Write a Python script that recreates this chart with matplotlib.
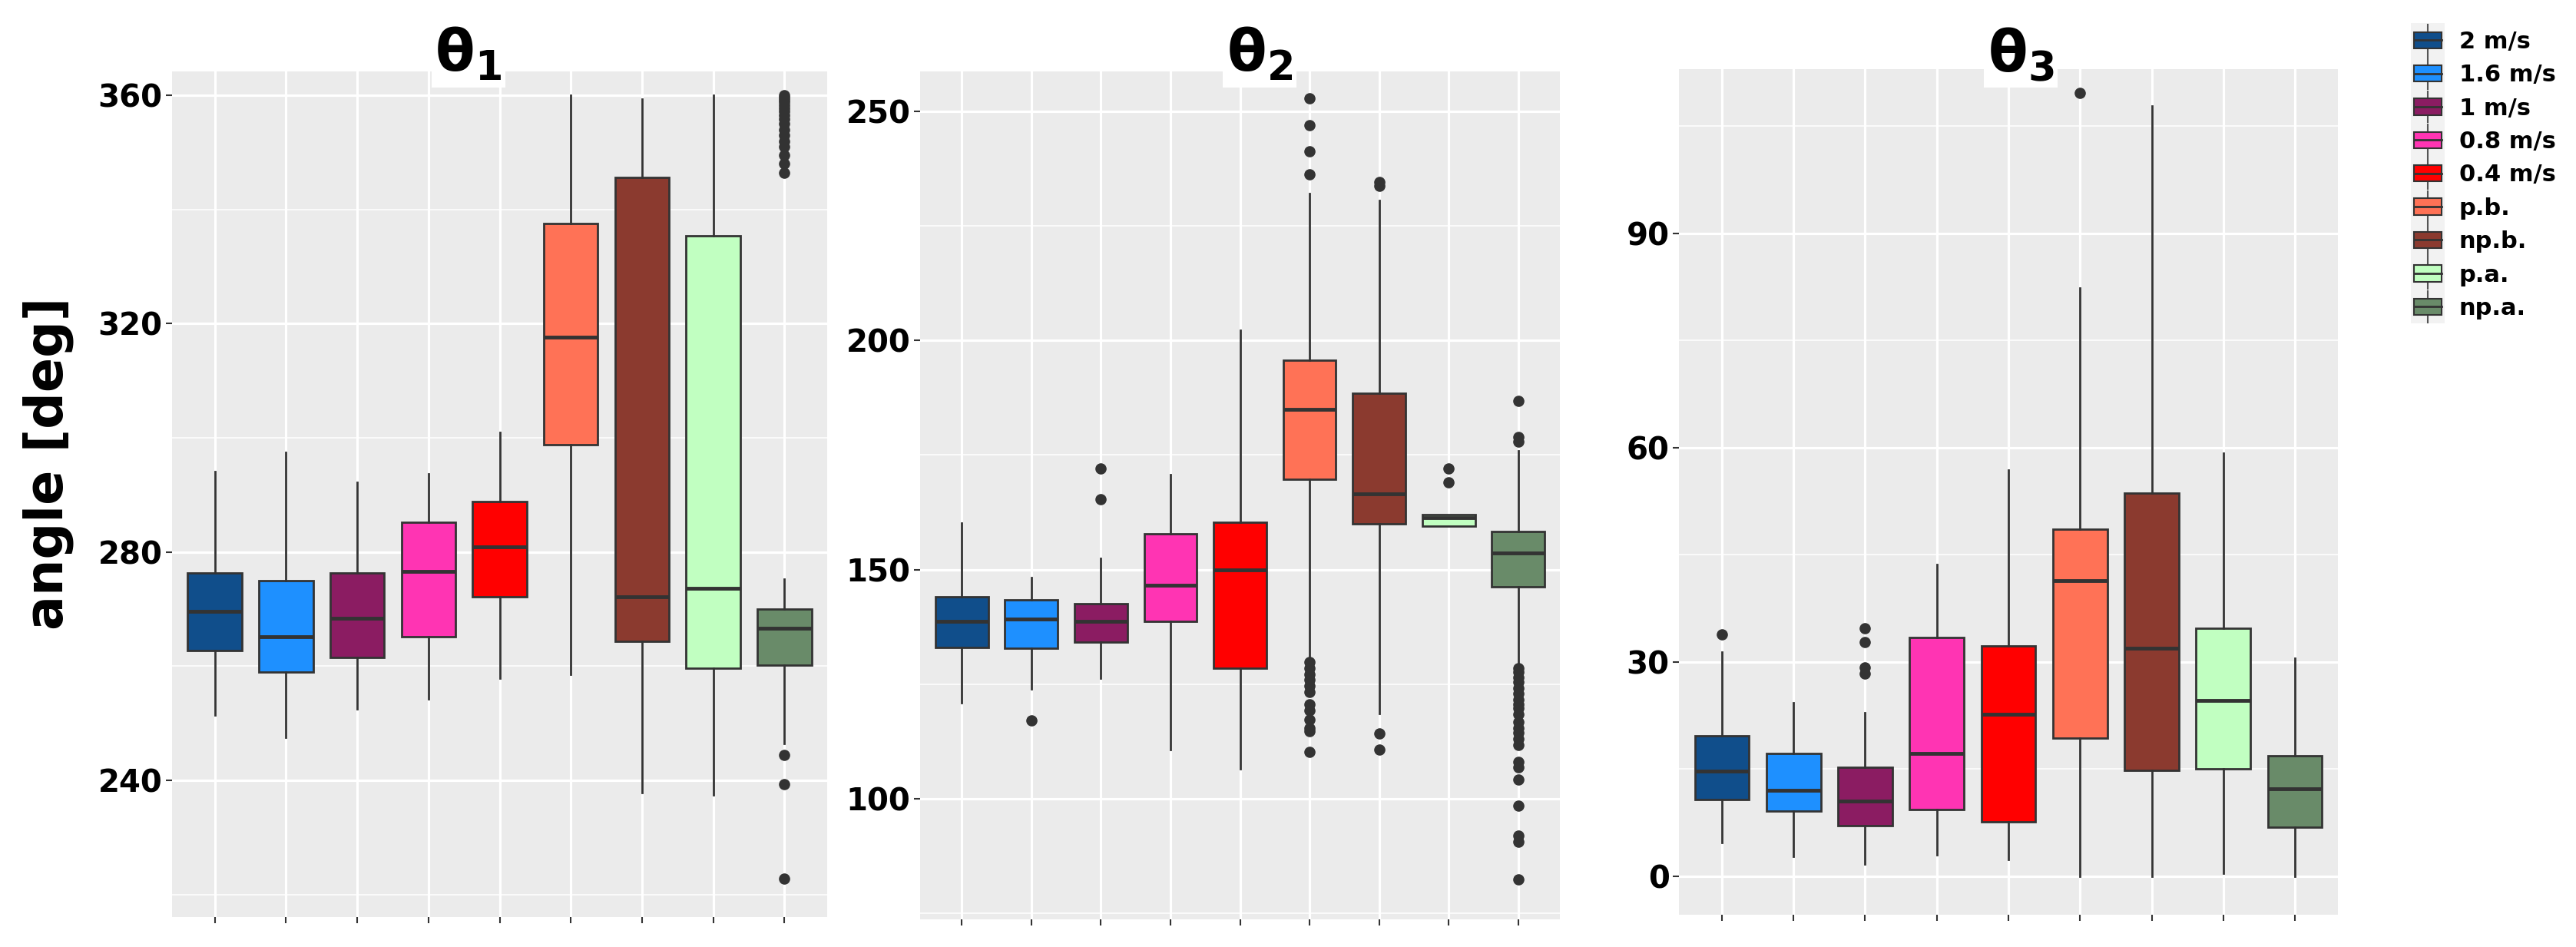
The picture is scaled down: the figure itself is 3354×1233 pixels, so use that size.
import numpy as np
import matplotlib
matplotlib.use("Agg")
import matplotlib.pyplot as plt
from matplotlib.patches import Rectangle, Patch
from matplotlib.lines import Line2D
from matplotlib.legend_handler import HandlerBase
from matplotlib.ticker import FixedLocator

# categories and colours
labels = ["2 m/s", "1.6 m/s", "1 m/s", "0.8 m/s", "0.4 m/s", "p.b.", "np.b.", "p.a.", "np.a."]
colors = ["#104E8B", "#1E90FF", "#8B1C62", "#FF34B3", "#FF0000",
          "#FF7256", "#8B3A2F", "#C1FFC1", "#698B69"]

# theta 1
t1_whislo = [251.4, 247.5, 252.5, 254.2, 257.9, 258.6, 237.8, 237.4, 246.4]
t1_q1 = [262.8, 259.0, 261.5, 265.2, 272.1, 298.8, 264.4, 259.7, 260.2]
t1_med = [269.6, 265.2, 268.4, 276.6, 280.9, 317.6, 272.1, 273.7, 266.6]
t1_q3 = [276.3, 275.0, 276.3, 285.2, 288.8, 337.5, 345.6, 335.4, 270.0]
t1_whishi = [294.1, 297.5, 292.2, 293.7, 301.0, 360.0, 359.3, 360.0, 275.3]
t1_fliers = [[], [], [], [], [], [], [], [],
             [360.0, 359.6, 359.2, 358.8, 358.3, 357.8, 357.2, 356.5, 355.8, 355.0,
              354.0, 353.0, 352.0, 351.0, 349.5, 348.0, 346.5, 244.5, 239.3, 222.8]]

# theta 2
t2_whislo = [120.9, 123.9, 126.3, 110.7, 106.5, 130.5, 118.6, 159.5, 129.5]
t2_q1 = [133.1, 132.9, 134.2, 138.7, 128.5, 169.8, 160.0, 159.5, 146.3]
t2_med = [138.7, 139.3, 138.7, 146.6, 149.9, 184.9, 166.5, 161.3, 153.6]
t2_q3 = [144.1, 143.4, 142.6, 157.9, 160.3, 195.7, 188.5, 162.0, 158.4]
t2_whishi = [160.1, 148.3, 152.4, 170.7, 202.3, 232.0, 230.6, 162.0, 176.0]
t2_fliers = [[], [117.1], [172.0, 165.4], [], [],
             [252.8, 247.0, 241.3, 236.3, 129.8, 128.5, 127.2, 125.9, 124.6, 123.3,
              120.6, 119.3, 117.3, 115.4, 114.7, 110.3],
             [234.6, 233.7, 114.3, 110.7],
             [172.0, 169.1],
             [186.8, 179.0, 177.9, 128.5, 127.6, 126.5, 125.5, 124.2, 122.9, 121.7,
              120.6, 119.7, 118.4, 116.7, 115.4, 114.4, 113.1, 111.8, 108.1, 106.8,
              104.2, 98.5, 91.9, 90.6, 82.4]]

# theta 3
t3_whislo = [4.7, 2.8, 1.7, 3.0, 2.4, 0.0, 0.0, 0.4, 0.0]
t3_q1 = [10.8, 9.1, 7.1, 9.3, 7.6, 19.3, 14.8, 15.0, 6.9]
t3_med = [14.7, 12.0, 10.5, 17.2, 22.7, 41.4, 31.9, 24.6, 12.2]
t3_q3 = [19.7, 17.2, 15.3, 33.4, 32.2, 48.6, 53.6, 34.7, 16.9]
t3_whishi = [31.4, 24.3, 22.9, 43.6, 56.9, 82.4, 107.8, 59.2, 30.5]
t3_fliers = [[33.9], [], [34.7, 32.8, 29.2, 28.4], [], [], [109.7], [], [], []]

panels = [
    dict(title="θ$_\\mathbf{1}$", lo=t1_whislo, q1=t1_q1, med=t1_med, q3=t1_q3, hi=t1_whishi,
         fl=t1_fliers, ylim=(216.05, 364.2), major=[240, 280, 320, 360], minor=[220, 260, 300, 340],
         rect=[224, 93, 1077, 1194], tx=610),
    dict(title="θ$_\\mathbf{2}$", lo=t2_whislo, q1=t2_q1, med=t2_med, q3=t2_q3, hi=t2_whishi,
         fl=t2_fliers, ylim=(73.7, 258.7), major=[100, 150, 200, 250], minor=[75, 125, 175, 225],
         rect=[1198, 93, 2031, 1197], tx=1640),
    dict(title="θ$_\\mathbf{3}$", lo=t3_whislo, q1=t3_q1, med=t3_med, q3=t3_q3, hi=t3_whishi,
         fl=t3_fliers, ylim=(-5.38, 113.0), major=[0, 30, 60, 90], minor=[15, 45, 75, 105],
         rect=[2186, 90, 3044, 1191], tx=2631),
]

W, H = 3354, 1233
fig = plt.figure(figsize=(W / 100, H / 100), dpi=100)
dark = "#333333"

for p in panels:
    x0, y0, x1, y1 = p["rect"]
    ax = fig.add_axes([x0 / W, 1 - y1 / H, (x1 - x0) / W, (y1 - y0) / H])
    ax.set_facecolor("#EBEBEB")
    for s in ax.spines.values():
        s.set_visible(False)
    stats = []
    for i in range(len(labels)):
        stats.append(dict(med=p["med"][i], q1=p["q1"][i], q3=p["q3"][i],
                          whislo=p["lo"][i], whishi=p["hi"][i], fliers=p["fl"][i]))
    bp = ax.bxp(stats, positions=range(1, 10), widths=0.76, patch_artist=True, showcaps=False,
                boxprops=dict(edgecolor=dark, linewidth=2),
                medianprops=dict(color=dark, linewidth=3.5),
                whiskerprops=dict(color=dark, linewidth=2),
                flierprops=dict(marker="o", markerfacecolor=dark, markeredgecolor=dark,
                                markersize=9.5, linestyle="none"))
    for box, c in zip(bp["boxes"], colors):
        box.set_facecolor(c)
    ax.set_xlim(0.4, 9.6)
    ax.set_ylim(*p["ylim"])
    ax.set_xticks(range(1, 10))
    ax.set_xticklabels([])
    ax.set_yticks(p["major"])
    ax.yaxis.set_minor_locator(FixedLocator(p["minor"]))
    ax.set_yticklabels([str(v) for v in p["major"]], fontsize=29, fontweight="bold")
    ax.set_axisbelow(True)
    ax.grid(which="major", color="white", linewidth=2.3)
    ax.grid(which="minor", axis="y", color="white", linewidth=1.1)
    ax.tick_params(which="major", length=6, width=1.5, color=dark, pad=3)
    ax.tick_params(which="minor", length=0)
    fig.text(p["tx"] / W, 1 - 72 / H, p["title"], fontsize=54, fontweight="bold",
             ha="center", va="center",
             bbox=dict(facecolor="white", edgecolor="none", pad=3), zorder=5)

fig.text(63 / W, 1 - 603 / H, "angle [deg]", rotation=90, fontsize=48, fontweight="bold",
         ha="center", va="center")


class BoxKey(HandlerBase):
    def create_artists(self, legend, orig_handle, xdescent, ydescent, width, height,
                       fontsize, trans):
        fc = orig_handle.get_facecolor()
        rowh = 31.4
        cx = -xdescent + width / 2
        mid = -ydescent + height / 2
        bg = Rectangle((-xdescent - 3, mid - rowh / 2), width + 6, rowh,
                       facecolor="#F2F2F2", edgecolor="none", transform=trans)
        wl = Line2D([cx, cx], [mid - rowh / 2 + 1, mid + rowh / 2 - 1], color="#555555",
                    lw=1.5, transform=trans)
        box = Rectangle((-xdescent, -ydescent), width, height, facecolor=fc,
                        edgecolor=dark, lw=1.5, transform=trans)
        ml = Line2D([-xdescent, -xdescent + width], [mid, mid], color=dark, lw=2,
                    transform=trans)
        return [bg, wl, box, ml]


handles = [Patch(facecolor=c) for c in colors]
leg = fig.legend(handles, labels, handler_map={Patch: BoxKey()}, loc="upper left",
                 bbox_to_anchor=(3143 / W, 1 - 40 / H), frameon=False, borderpad=0,
                 borderaxespad=0, handlelength=1.18, handleheight=0.7, handletextpad=0.75,
                 labelspacing=0.47, prop=dict(size=22, weight="bold"))

fig.savefig("out.png", dpi=100)
